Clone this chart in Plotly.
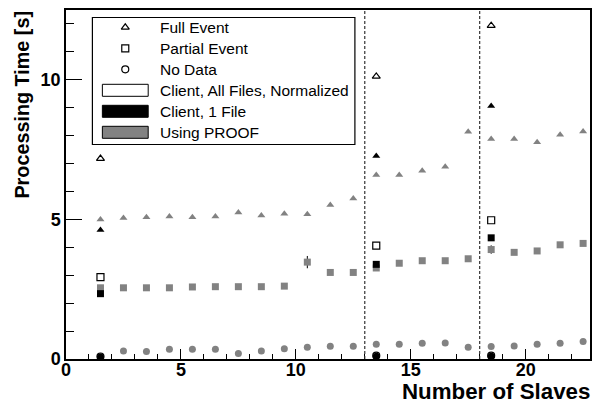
import plotly.graph_objects as go

# ---------------- data ----------------
x_proof = [1.5, 2.5, 3.5, 4.5, 5.5, 6.5, 7.5, 8.5, 9.5, 10.5, 11.5,
           12.5, 13.5, 14.5, 15.5, 16.5, 17.5, 18.5, 19.5, 20.5, 21.5, 22.5]
proof_full = [5.00, 5.05, 5.08, 5.10, 5.08, 5.10, 5.25, 5.14, 5.20, 5.18, 5.52,
              5.75, 6.59, 6.59, 6.74, 6.89, 8.14, 7.88, 7.88, 7.76, 8.03, 8.15]
proof_partial = [2.55, 2.55, 2.55, 2.55, 2.58, 2.59, 2.59, 2.59, 2.61, 3.47, 3.10,
                 3.10, 3.26, 3.43, 3.52, 3.52, 3.59, 3.92, 3.82, 3.87, 4.09, 4.14]
proof_partial_err = [0, 0, 0, 0, 0, 0, 0, 0, 0, 0.22, 0,
                     0, 0, 0, 0, 0, 0, 0.15, 0, 0, 0, 0]
proof_nodata = [0.08, 0.29, 0.27, 0.35, 0.35, 0.35, 0.20, 0.29, 0.37, 0.42, 0.46,
                0.46, 0.53, 0.53, 0.56, 0.57, 0.42, 0.45, 0.47, 0.53, 0.56, 0.63]

x_client = [1.5, 13.5, 18.5]
client1_full = [4.62, 7.27, 9.06]
client1_partial = [2.34, 3.39, 4.34]
client1_nodata = [0.07, 0.10, 0.10]
clientall_full = [7.18, 10.12, 11.94]
clientall_partial = [2.93, 4.06, 4.97]
clientall_nodata = [0.09, 0.12, 0.12]

separators = [13, 18]

legend_markers = ["Full Event", "Partial Event", "No Data"]
legend_boxes = ["Client, All Files, Normalized", "Client, 1 File", "Using PROOF"]

# ---------------- style ----------------
W, H = 597, 410
ML, MR, MT, MB = 66, 5, 10, 51
GRAY = "#828282"
FONT = "Liberation Sans"
MS = 7

fig = go.Figure()

def pts(x, y, symbol, color, line_color=None, err=None):
    fig.add_trace(go.Scatter(
        x=x, y=y, mode="markers", showlegend=False,
        marker=dict(symbol=symbol, size=MS, color=color,
                    line=dict(width=1.2 if line_color else 0, color=line_color or color)),
        error_y=dict(type="data", array=err, visible=True, color="black",
                     thickness=1, width=0) if err else None,
        cliponaxis=False,
    ))

# PROOF (gray)
pts(x_proof, proof_full, "triangle-up", GRAY)
pts(x_proof, proof_partial, "square", GRAY, err=proof_partial_err)
pts(x_proof, proof_nodata, "circle", GRAY)
# Client, 1 file (black)
pts(x_client, client1_full, "triangle-up", "black")
pts(x_client, client1_partial, "square", "black")
pts(x_client, client1_nodata, "circle", "black")
# Client, all files normalized (open)
pts(x_client, clientall_full, "triangle-up-open", "black", "black")
pts(x_client, clientall_partial, "square-open", "black", "black")
pts(x_client, clientall_nodata, "circle-open", "black", "black")

# vertical dashed separators
for s in separators:
    fig.add_shape(type="line", xref="x", yref="paper", x0=s, x1=s, y0=0, y1=1,
                  line=dict(color="#333333", width=1.2, dash="3px,2px"))

# ---------------- legend (pixel coords on overlay axes) ----------------
row_y = [27.3, 48.3, 69.3, 90.3, 111.3, 132.3]
sym_x = 125.5
text_x = 158
# frame
fig.add_shape(type="rect", xref="x2", yref="y2", x0=92.5, x1=356, y0=17.5, y1=144.5,
              line=dict(color="black", width=1.2), fillcolor="rgba(0,0,0,0)", layer="above")
for name, sym, yy in zip(legend_markers, ["triangle-up-open", "square-open", "circle-open"], row_y[:3]):
    fig.add_trace(go.Scatter(x=[sym_x], y=[yy], xaxis="x2", yaxis="y2", mode="markers",
                             showlegend=False, hoverinfo="skip",
                             marker=dict(symbol=sym, size=MS, color="black",
                                         line=dict(width=1.2, color="black"))))
for name, fc, yy in zip(legend_boxes, ["white", "black", GRAY], row_y[3:]):
    fig.add_shape(type="rect", xref="x2", yref="y2", x0=102.5, x1=148.5, y0=yy - 6, y1=yy + 6,
                  line=dict(color="black", width=1), fillcolor=fc, layer="above")
for name, yy in zip(legend_markers + legend_boxes, row_y):
    fig.add_annotation(x=text_x, y=yy, xref="x2", yref="y2", text=name, showarrow=False,
                       xanchor="left", yanchor="middle",
                       font=dict(family=FONT, size=15.5, color="black"))

# axis titles
fig.add_annotation(x=1.003, y=-0.053, xref="paper", yref="paper", text="Number of Slaves",
                   showarrow=False, xanchor="right", yanchor="top",
                   font=dict(family=FONT, size=22.3, color="black", weight="bold"))
fig.add_annotation(x=-0.084, y=1.004, xref="paper", yref="paper", text="Processing Time [s]",
                   showarrow=False, textangle=-90, xanchor="center", yanchor="top",
                   font=dict(family=FONT, size=19.8, color="black", weight="bold"))

axis_common = dict(showline=True, linecolor="black", linewidth=1.5, mirror=True,
                   showgrid=False, zeroline=False, ticks="inside", tickcolor="black",
                   tickwidth=1.2,
                   tickfont=dict(family=FONT, size=18, color="black", weight="bold"))
fig.update_layout(
    width=W, height=H,
    margin=dict(l=ML, r=MR, t=MT, b=MB),
    paper_bgcolor="white", plot_bgcolor="white",
    xaxis=dict(range=[0, 22.8], tick0=0, dtick=5, ticklen=10, ticklabelstandoff=-6,
               minor=dict(dtick=1, ticklen=5, ticks="inside", tickcolor="black", tickwidth=1.2),
               **axis_common),
    yaxis=dict(range=[0, 12.5], tick0=0, dtick=5, ticklen=16,
               minor=dict(dtick=1, ticklen=8, ticks="inside", tickcolor="black", tickwidth=1.2),
               **axis_common),
    xaxis2=dict(range=[ML, W - MR], overlaying="x", visible=False, fixedrange=True),
    yaxis2=dict(range=[H - MB, MT], overlaying="y", visible=False, fixedrange=True),
    showlegend=False,
)

fig.write_html("out.html", config={"displayModeBar": False},
               post_script="document.body.style.margin='0';")
